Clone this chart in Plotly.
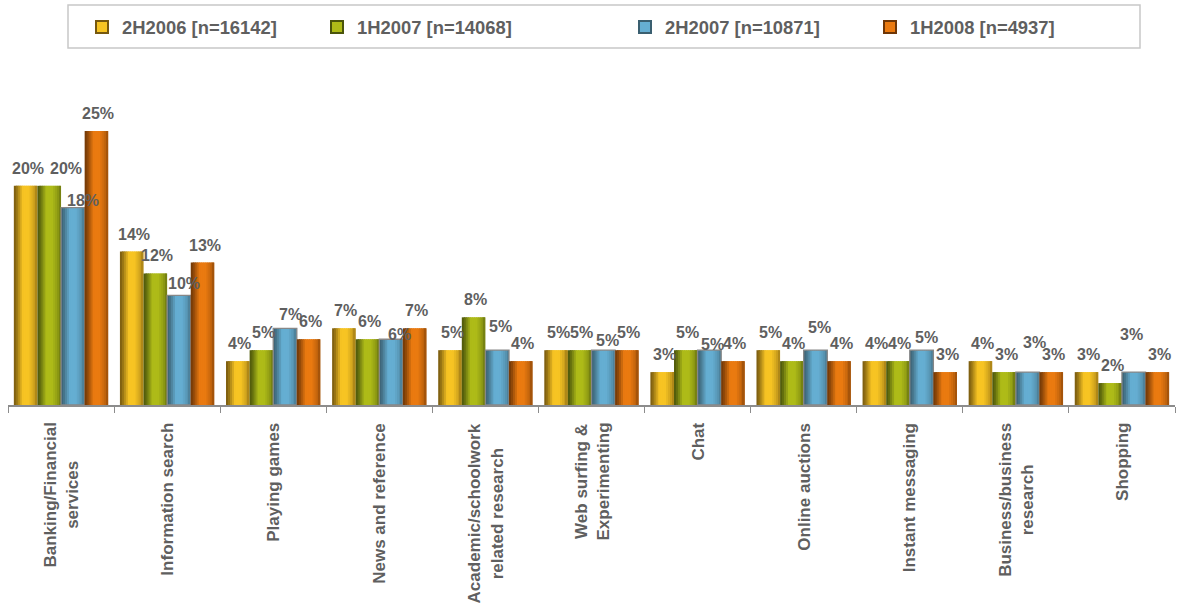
import plotly.graph_objects as go

# Activity categories (x axis) and survey waves (series)
categories = [
    "Banking/Financial<br>services",
    "Information search",
    "Playing games",
    "News and reference",
    "Academic/schoolwork<br>related research",
    "Web surfing &<br>Experimenting",
    "Chat",
    "Online auctions",
    "Instant messaging",
    "Business/business<br>research",
    "Shopping",
]
cat_keys = [c.replace("<br>", " ") for c in categories]

series_names = ["2H2006 [n=16142]", "1H2007 [n=14068]", "2H2007 [n=10871]", "1H2008 [n=4937]"]

v_2h2006 = [20, 14, 4, 7, 5, 5, 3, 5, 4, 4, 3]
v_1h2007 = [20, 12, 5, 6, 8, 5, 5, 4, 4, 3, 2]
v_2h2007 = [18, 10, 7, 6, 5, 5, 5, 5, 5, 3, 3]
v_1h2008 = [25, 13, 6, 7, 4, 5, 4, 4, 3, 3, 3]
series_values = [v_2h2006, v_1h2007, v_2h2007, v_1h2008]

# Bright centre / dark edge colour of each series' cylinder shading
base_colors = ["#F7C423", "#AEBB18", "#65AED2", "#EA7A10"]
dark_colors = ["#76580F", "#4A540B", "#3A5F70", "#6E3606"]

# Label nudges (px, +y = down) that keep crowded value labels apart:
# {(category index, series index): (dx, dy)}
label_nudge = {
    (0, 1): (15, 0), (0, 2): (8, 10),
    (1, 2): (3, 6), (2, 2): (3, 4), (3, 2): (6, 13), (4, 2): (1, -6),
    (5, 2): (2, 8), (6, 2): (1, 12), (7, 2): (2, -5), (8, 2): (3, 5),
    (9, 2): (5, -12), (10, 2): (-4, -20),
}
# left edge (px) of each legend entry
legend_swatch_px = [97, 332, 640, 885]

FONT = "Liberation Sans, Arial, sans-serif"
TXT = "#5f5f5f"

W, H = 1178, 603
ML, MR, MT, MB = 8, 3, 80, 198
plot_w = W - ML - MR
plot_h = H - MT - MB
px_per_cat = plot_w / len(categories)
px_per_unit = 10.96
y_max = plot_h / px_per_unit

group_w = 0.89
bar_w = group_w / len(series_names)
N_STRIPS = 12


def hex_rgb(h):
    h = h.lstrip("#")
    return [int(h[i:i + 2], 16) for i in (0, 2, 4)]


def mix(c1, c2, a):
    a1, a2 = hex_rgb(c1), hex_rgb(c2)
    return "rgb(%d,%d,%d)" % tuple(round(x * (1 - a) + y * a) for x, y in zip(a1, a2))


def shade(t):
    # 0 -> dark edge colour, 1 -> bright centre colour
    pts = [(0.0, 0.0), (0.12, 0.25), (0.38, 1.0), (0.62, 1.0), (0.85, 0.7), (1.0, 0.35)]
    for (x0, y0), (x1, y1) in zip(pts[:-1], pts[1:]):
        if x0 <= t <= x1:
            return y0 + (y1 - y0) * (t - x0) / (x1 - x0)
    return 1.0


def px_to_paper_x(px):
    return (px - ML) / plot_w


def px_to_paper_y(py):
    return 1 + (MT - py) / plot_h


fig = go.Figure()

for i, (name, vals) in enumerate(zip(series_names, series_values)):
    start = -group_w / 2 + i * bar_w
    sw = bar_w / N_STRIPS
    for j in range(N_STRIPS):
        t = (j + 0.5) / N_STRIPS
        col = mix(dark_colors[i], base_colors[i], shade(t))
        w = sw * 1.8 if j < N_STRIPS - 1 else sw
        fig.add_trace(go.Bar(
            x=cat_keys, y=vals,
            offset=start + j * sw, width=w,
            marker=dict(color=col, line=dict(width=0)),
            name=name, showlegend=False, hoverinfo="skip",
        ))
    # legend entry for this series, each in its own legend box
    fig.add_trace(go.Bar(
        x=[None], y=[None], name=name,
        marker=dict(color=base_colors[i], line=dict(color=dark_colors[i], width=2)),
        showlegend=True, legend="legend" if i == 0 else f"legend{i + 1}",
    ))
    if i == 2:
        fig.add_trace(go.Bar(
            x=cat_keys, y=vals, offset=start, width=bar_w,
            marker=dict(color="rgba(0,0,0,0)", line=dict(color="#878787", width=1.3)),
            showlegend=False, hoverinfo="skip",
        ))

annotations = []
# value labels above each bar
for i, vals in enumerate(series_values):
    centre = -group_w / 2 + (i + 0.5) * bar_w
    for c, (k, v) in enumerate(zip(cat_keys, vals)):
        dx, dy = label_nudge.get((c, i), (0, 0))
        annotations.append(dict(
            x=k, y=v, xref="x", yref="y", text=f"{v}%", showarrow=False,
            xshift=centre * px_per_cat + 2 + dx, yshift=7 - dy, yanchor="bottom",
            font=dict(family=FONT, size=16, color=TXT, weight="bold"),
        ))

# rotated category labels hanging below the axis
for k, lab in zip(cat_keys, categories):
    annotations.append(dict(
        x=k, y=0, xref="x", yref="paper", text=lab, showarrow=False,
        textangle=-90, yanchor="top", xanchor="center", yshift=-16, align="center",
        font=dict(family=FONT, size=17, color=TXT, weight="bold"),
    ))

legend_style = dict(
    orientation="h", xanchor="left", yanchor="middle", y=px_to_paper_y(27),
    bgcolor="rgba(0,0,0,0)", borderwidth=0,
    font=dict(family=FONT, size=18.4, color=TXT, weight="bold"),
    itemclick=False, itemdoubleclick=False,
)
legends = {}
for i, sx in enumerate(legend_swatch_px):
    key = "legend" if i == 0 else f"legend{i + 1}"
    legends[key] = dict(legend_style, x=px_to_paper_x(sx - 15))

fig.update_layout(
    width=W, height=H,
    margin=dict(l=ML, r=MR, t=MT, b=MB),
    barmode="overlay",
    paper_bgcolor="white", plot_bgcolor="white",
    showlegend=True,
    xaxis=dict(
        type="category", categoryorder="array", categoryarray=cat_keys,
        range=[-0.5, len(categories) - 0.5],
        showline=True, linecolor="#8c8c8c", linewidth=1.5,
        ticks="outside", tickson="boundaries", ticklen=6, tickcolor="#8c8c8c",
        showticklabels=False, showgrid=False, zeroline=False,
    ),
    yaxis=dict(range=[0, y_max], visible=False, showgrid=False, zeroline=False),
    annotations=annotations,
    shapes=[dict(
        type="rect", xref="paper", yref="paper",
        x0=px_to_paper_x(68), x1=px_to_paper_x(1140),
        y0=px_to_paper_y(48), y1=px_to_paper_y(5),
        line=dict(color="#c8c8c8", width=1.5), fillcolor="rgba(0,0,0,0)",
    )],
    **legends,
)

fig.write_html("out.html")
